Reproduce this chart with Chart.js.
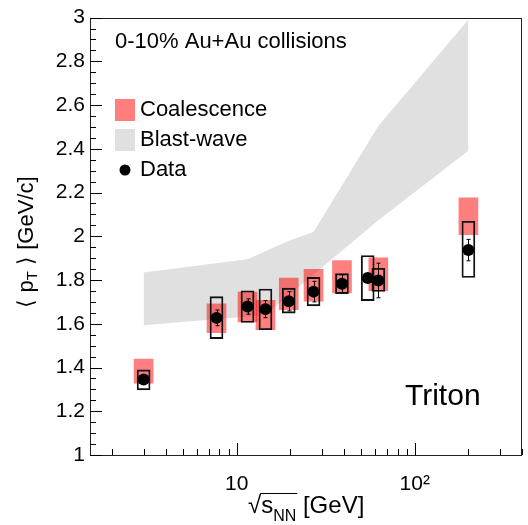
<!DOCTYPE html>
<html>
<head>
<meta charset="utf-8">
<script src="https://cdn.jsdelivr.net/npm/chart.js@4.4.0/dist/chart.umd.min.js"></script>
<style>
  html, body { margin: 0; padding: 0; background: #fff; }
  canvas { display: block; }
</style>
</head>
<body>
<canvas id="tritonChart" width="528" height="525"></canvas>
<script>
// measured triton <pT>, 0-10% Au+Au
const energies = [3, 7.7, 11.5, 14.5, 19.6, 27, 39, 54.4, 62.4, 200];
const meanPt = [1.345, 1.627, 1.679, 1.667, 1.703, 1.747, 1.783, 1.809, 1.798, 1.937];
const statErr = [0.015, 0.036, 0.035, 0.039, 0.044, 0.047, 0.041, 0.015, 0.079, 0.049];
const sysLow = [1.298, 1.532, 1.606, 1.573, 1.649, 1.682, 1.738, 1.706, 1.748, 1.812];
const sysHigh = [1.389, 1.724, 1.751, 1.759, 1.763, 1.812, 1.829, 1.912, 1.854, 2.069];

// coalescence model (no point at 54.4)
const coalEnergies = [3, 7.7, 11.5, 14.5, 19.6, 27, 39, 62.4, 200];
const coalLow = [1.328, 1.559, 1.609, 1.573, 1.665, 1.703, 1.741, 1.751, 2.008];
const coalHigh = [1.439, 1.691, 1.745, 1.707, 1.809, 1.849, 1.889, 1.902, 2.176];

// blast-wave band edges
const bwUpperX = [3, 11.5, 19.6, 27, 62.4, 200];
const bwUpperY = [1.834, 1.895, 1.98, 2.02, 2.504, 2.991];
const bwLowerX = [3, 14.5, 62.4, 200];
const bwLowerY = [1.593, 1.64, 2.073, 2.391];

// axis labels
const xTickValues = [10, 100];
const xTickLabels = ["10", "10\u00B2"];
const yTickValues = [1, 1.2, 1.4, 1.6, 1.8, 2, 2.2, 2.4, 2.6, 2.8, 3];
const yTickLabels = ["1", "1.2", "1.4", "1.6", "1.8", "2", "2.2", "2.4", "2.6", "2.8", "3"];

const FONT = "'Liberation Sans', Arial, Helvetica, sans-serif";
const COAL_COLOR = "rgba(255, 0, 0, 0.5)";
const BW_COLOR = "#e0e0e0";

const toXY = (xs, ys) => xs.map((x, i) => ({ x: x, y: ys[i] }));

// frame, inner ticks, error bars, legend and titles
const decorations = {
  id: "decorations",
  afterDatasetsDraw(chart) {
    const ctx = chart.ctx;
    const xs = chart.scales.x;
    const ys = chart.scales.y;
    ctx.save();
    ctx.strokeStyle = "#000";
    ctx.lineWidth = 1;
    for (let i = 0; i < energies.length; i++) {
      const px = Math.round(xs.getPixelForValue(energies[i])) + 0.5;
      const top = ys.getPixelForValue(meanPt[i] + statErr[i]);
      const bot = ys.getPixelForValue(meanPt[i] - statErr[i]);
      ctx.beginPath();
      ctx.moveTo(px, top);
      ctx.lineTo(px, bot);
      ctx.moveTo(px - 2, top);
      ctx.lineTo(px + 2, top);
      ctx.moveTo(px - 2, bot);
      ctx.lineTo(px + 2, bot);
      ctx.stroke();
    }
    ctx.restore();
  },
  afterDraw(chart) {
    const ctx = chart.ctx;
    const a = chart.chartArea;
    const xs = chart.scales.x;
    const ys = chart.scales.y;
    ctx.save();

    // frame
    ctx.strokeStyle = "#222";
    ctx.lineWidth = 1;
    ctx.strokeRect(Math.round(a.left) + 0.5, Math.round(a.top) + 0.5,
      Math.round(a.right - a.left) - 1, Math.round(a.bottom - a.top));

    // x ticks (inside, pointing up)
    ctx.strokeStyle = "#000";
    ctx.beginPath();
    for (let dec = 1; dec <= 100; dec *= 10) {
      for (let m = 1; m <= 9; m++) {
        const v = m * dec;
        if (v < xs.min || v > xs.max) continue;
        const px = Math.round(xs.getPixelForValue(v)) + 0.5;
        const len = m === 1 ? 12 : 6;
        ctx.moveTo(px, a.bottom);
        ctx.lineTo(px, a.bottom - len);
      }
    }
    // y ticks (inside, pointing right)
    for (let k = 0; k <= 40; k++) {
      const v = 1 + k * 0.05;
      const py = Math.round(ys.getPixelForValue(v)) + 0.5;
      const len = k % 4 === 0 ? 12 : 6;
      ctx.moveTo(a.left, py);
      ctx.lineTo(a.left + len, py);
    }
    ctx.stroke();

    ctx.fillStyle = "#000";
    ctx.textBaseline = "middle";
    ctx.textAlign = "left";

    // header and particle label
    ctx.font = "22px " + FONT;
    ctx.fillText("0-10% Au+Au collisions", 115, 42);
    ctx.font = "30px " + FONT;
    ctx.fillText("Triton", 405, 397);

    // legend
    ctx.fillStyle = COAL_COLOR;
    ctx.fillRect(115, 99, 20, 22);
    ctx.fillStyle = BW_COLOR;
    ctx.fillRect(115, 129, 20, 22);
    ctx.fillStyle = "#000";
    ctx.beginPath();
    ctx.arc(125, 170, 5.5, 0, Math.PI * 2);
    ctx.fill();
    ctx.font = "22px " + FONT;
    ctx.fillText("Coalescence", 140, 110);
    ctx.fillText("Blast-wave", 140, 140);
    ctx.fillText("Data", 140, 170);

    // x title: sqrt(s_NN) [GeV]
    ctx.textBaseline = "alphabetic";
    let x0 = 248;
    const base = 513;
    ctx.font = "24px " + FONT;
    ctx.fillText("\u221A", x0, base);
    x0 += ctx.measureText("\u221A").width;
    const barStart = x0;
    ctx.fillText("s", x0, base);
    x0 += ctx.measureText("s").width;
    ctx.font = "16px " + FONT;
    ctx.fillText("NN", x0, base + 8);
    x0 += ctx.measureText("NN").width;
    ctx.beginPath();
    ctx.lineWidth = 1;
    ctx.moveTo(barStart - 1, 493.5);
    ctx.lineTo(x0 + 1, 493.5);
    ctx.stroke();
    ctx.font = "24px " + FONT;
    ctx.fillText(" [GeV]", x0, base);

    // y title: <pT> [GeV/c]
    ctx.translate(27, 242);
    ctx.rotate(-Math.PI / 2);
    ctx.textBaseline = "middle";
    const p1 = "\u27E8 p", p2 = "T", p3 = " \u27E9 [GeV/c]";
    ctx.font = "22px " + FONT;
    const w1 = ctx.measureText(p1).width;
    const w3 = ctx.measureText(p3).width;
    ctx.font = "15px " + FONT;
    const w2 = ctx.measureText(p2).width;
    let u = -(w1 + w2 + w3) / 2;
    ctx.font = "22px " + FONT;
    ctx.fillText(p1, u, 0);
    u += w1;
    ctx.font = "15px " + FONT;
    ctx.fillText(p2, u, 6);
    u += w2;
    ctx.font = "22px " + FONT;
    ctx.fillText(p3, u, 0);

    ctx.restore();
  }
};

const ctx = document.getElementById("tritonChart").getContext("2d");

const tritonChart = new Chart(ctx, {
  type: "bar",
  data: {
    datasets: [
      {
        type: "scatter",
        label: "Data",
        data: toXY(energies, meanPt),
        backgroundColor: "#000",
        borderWidth: 0,
        pointRadius: 6,
        order: 0,
      },
      {
        type: "bar",
        label: "Sys",
        data: energies.map((e, i) => ({ x: e, y: [sysLow[i], sysHigh[i]] })),
        backgroundColor: "rgba(0, 0, 0, 0)",
        borderColor: "#111",
        borderWidth: 1.2,
        borderSkipped: false,
        barThickness: 13,
        grouped: false,
        order: 1,
      },
      {
        type: "bar",
        label: "Coalescence",
        data: coalEnergies.map((e, i) => ({ x: e, y: [coalLow[i], coalHigh[i]] })),
        backgroundColor: COAL_COLOR,
        borderWidth: 0,
        barThickness: 19,
        grouped: false,
        order: 2,
      },
      {
        type: "line",
        label: "Blast-wave",
        data: toXY(bwUpperX, bwUpperY),
        backgroundColor: BW_COLOR,
        borderColor: "rgba(0, 0, 0, 0)",
        borderWidth: 0,
        pointRadius: 0,
        tension: 0,
        fill: "+1",
        order: 3,
      },
      {
        type: "line",
        label: "Blast-wave low",
        data: toXY(bwLowerX, bwLowerY),
        borderColor: "rgba(0, 0, 0, 0)",
        borderWidth: 0,
        pointRadius: 0,
        tension: 0,
        fill: false,
        order: 4,
      },
    ],
  },
  options: {
    responsive: false,
    animation: false,
    layout: {
      padding: { top: 14, right: 6, left: 0, bottom: 0 },
    },
    plugins: {
      legend: { display: false },
      tooltip: { enabled: false },
    },
    scales: {
      x: {
        type: "logarithmic",
        min: 1.5,
        max: 400,
        offset: false,
        grid: { display: false, drawTicks: false },
        border: { display: false },
        afterBuildTicks: (s) => {
          s.ticks = xTickValues.map((v) => ({ value: v }));
        },
        afterFit: (s) => {
          s.height = 70;
        },
        ticks: {
          autoSkip: false,
          maxRotation: 0,
          padding: 17,
          color: "#000",
          font: { family: FONT, size: 21 },
          callback: (v) => {
            const i = xTickValues.indexOf(v);
            return i >= 0 ? xTickLabels[i] : "";
          },
        },
      },
      y: {
        type: "linear",
        min: 1,
        max: 3,
        grid: { display: false, drawTicks: false },
        border: { display: false },
        afterBuildTicks: (s) => {
          s.ticks = yTickValues.map((v) => ({ value: v }));
        },
        afterFit: (s) => {
          s.width = 90;
        },
        ticks: {
          autoSkip: false,
          padding: 5,
          color: "#000",
          font: { family: FONT, size: 21 },
          callback: (v, i) => yTickLabels[i],
        },
      },
    },
  },
  plugins: [decorations],
});
</script>
</body>
</html>
